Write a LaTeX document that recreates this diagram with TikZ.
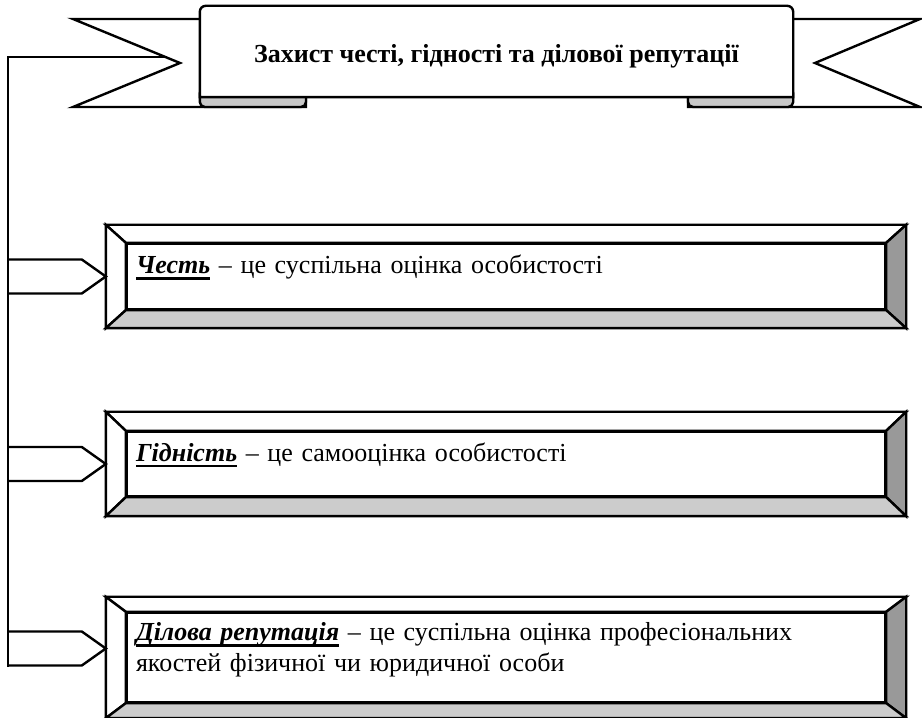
\documentclass[tikz,border=0pt]{standalone}
\usepackage{fontspec}
\setmainfont{Liberation Serif}
\definecolor{bevellight}{RGB}{204, 204, 204}
\definecolor{beveldark}{RGB}{153, 153, 153}
\definecolor{foldgray}{RGB}{200, 200, 200}
\usetikzlibrary{calc, backgrounds}
\newcommand{\term}[1]{{\setbox0=\hbox{\textbf{\textit{#1}}}\copy0\kern-\wd0\rule[-6pt]{\wd0}{2.5pt}}}

\begin{document}
\begin{tikzpicture}[x=1pt, y=1pt,
    outline/.style={draw=black, line width=2.4pt},
    ribbon/.style={outline, fill=white},
    fold/.style={outline, fill=foldgray, rounded corners=5pt},
    bannerbox/.style={rectangle, minimum width=593pt, minimum height=91pt, text height=23pt, text depth=0pt, font=\fontsize{26}{30}\selectfont\bfseries},
    defbox/.style={rectangle, outline, fill=white, text width=740pt, inner xsep=9pt, minimum width=758pt, align=left, text height=10pt, text depth=15pt, font=\fontsize{26}{31}\selectfont},
    bevellit/.style={outline, fill=white},
    bevelside/.style={outline, fill=beveldark},
    bevelfoot/.style={outline, fill=bevellight},
    branch/.style={outline, fill=white},
    trunk/.style={draw=black, line width=2.2pt, line cap=rect}]

\useasboundingbox (0,0) rectangle (922,718);

\node[bannerbox] (title) at (496.5,666.5) {Захист честі, гідності та ділової репутації};

% banner drawn behind the title text
\begin{scope}[on background layer]
  \coordinate (trunktop) at (8,661);
  \draw[trunk] (trunktop) -- (170,661);
  \draw[ribbon] (240,699) -- (73,699) -- (180,655) -- (73,611) -- (306,611) -- (306,699) -- cycle;
  \draw[ribbon] (750,699) -- (920,699) -- (815,655) -- (920,611) -- (688,611) -- (688,699) -- cycle;
  \draw[fold] ($(title.south west)+(0,9)$) rectangle (306,611);
  \draw[fold] (688,611) rectangle ($(title.south east)+(0,9)$);
  \draw[ribbon] (title.south west) [rounded corners=6pt] -- (title.north west) -- (title.north east)
    [sharp corners] -- (title.south east) -- cycle;
\end{scope}

% definition boxes
\node[defbox, minimum height=65pt] (chest) at (506,441.5) {\term{Честь} -- це суспільна оцінка особистості};
\node[defbox, minimum height=64pt] (gidnist) at (506,254) {\term{Гідність} -- це самооцінка особистості};
\node[defbox, minimum height=89pt, text depth=43pt] (reputation) at (506,60.5) {\term{Ділова репутація} -- це суспільна оцінка професіональних\\якостей фізичної чи юридичної особи};

\foreach \name/\by/\dy in {chest/18/0, gidnist/19/0, reputation/15/9} {
  \coordinate (\name-nw) at ($(\name.north west)+(-20,\by)$);
  \coordinate (\name-ne) at ($(\name.north east)+(20,\by)$);
  \coordinate (\name-sw) at ($(\name.south west)+(-20,-\by)$);
  \coordinate (\name-se) at ($(\name.south east)+(20,-\by)$);
  \draw[bevellit] (\name-nw) -- (\name-ne) -- (\name.north east) -- (\name.north west) -- cycle;
  \draw[bevellit] (\name-nw) -- (\name.north west) -- (\name.south west) -- (\name-sw) -- cycle;
  \draw[bevelside] (\name-ne) -- (\name-se) -- (\name.south east) -- (\name.north east) -- cycle;
  \draw[bevelfoot] (\name-sw) -- (\name-se) -- (\name.south east) -- (\name.south west) -- cycle;
  \coordinate (\name-tip) at ($(\name.west)+(-20,\dy)$);
  \draw[branch] ($(\name-tip -| trunktop)+(0,17)$) -- ($(\name-tip)+(-24,17)$) -- (\name-tip)
    -- ($(\name-tip)+(-24,-17)$) -- ($(\name-tip -| trunktop)+(0,-17)$);
}

\draw[trunk] (trunktop) -- ($(reputation-tip -| trunktop)+(0,-17)$);
\end{tikzpicture}
\end{document}
